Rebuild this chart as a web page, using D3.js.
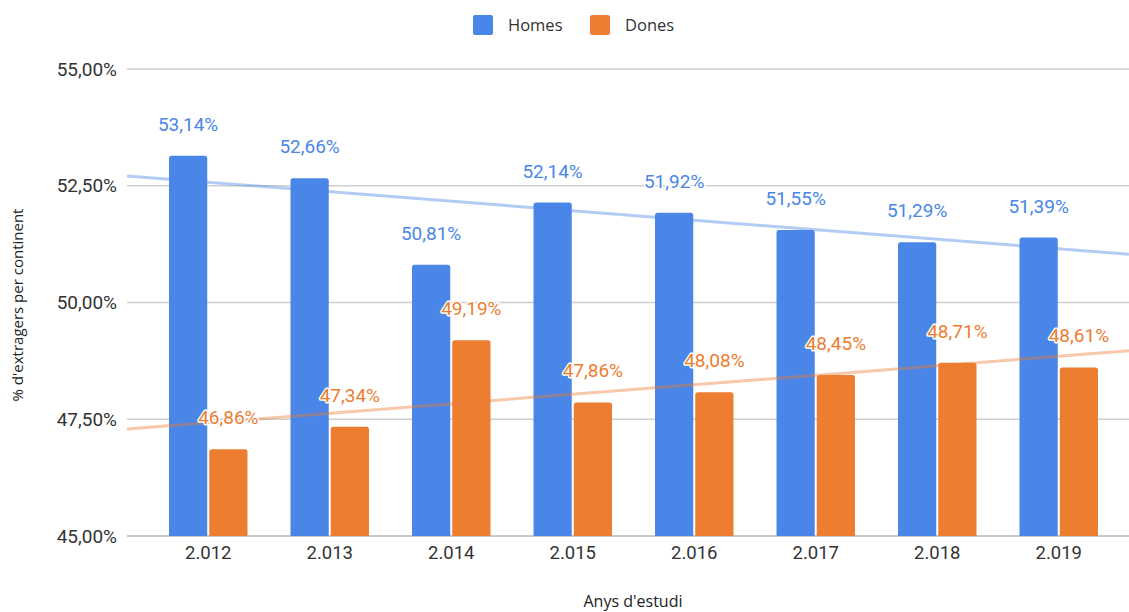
<!DOCTYPE html>
<html lang="ca">
<head>
<meta charset="UTF-8">
<title>Homes i dones</title>
<script src="https://cdn.jsdelivr.net/npm/d3@7"></script>
<style>
  body { margin: 0; background: #fff; }
  text { font-family: Roboto, "Noto Sans", sans-serif; }
  .title { font-family: "Open Sans", "Noto Sans", sans-serif; }
</style>
</head>
<body>
<svg id="chart" width="1129" height="612"></svg>
<script>
const years = ["2.012", "2.013", "2.014", "2.015", "2.016", "2.017", "2.018", "2.019"];
const homes = [53.14, 52.66, 50.81, 52.14, 51.92, 51.55, 51.29, 51.39];
const dones = [46.86, 47.34, 49.19, 47.86, 48.08, 48.45, 48.71, 48.61];
const yTicks = [45, 47.5, 50, 52.5, 55];
const seriesNames = ["Homes", "Dones"];
const colors = ["#4a86e8", "#ed7d31"];

const svg = d3.select("#chart");
const fmt = v => v.toFixed(2).replace(".", ",") + "%";

const plotLeft = 127, plotRight = 1129, plotTop = 69, plotBottom = 536;

const y = d3.scaleLinear().domain([45, 55]).range([plotBottom, plotTop]);
const x = d3.scaleBand().domain(years).range([169, 1098]).paddingInner(0.354).paddingOuter(0);
const xs = d3.scaleBand().domain(seriesNames).range([0, x.bandwidth()]).paddingInner(0.05);

// gridlines
svg.append("g").selectAll("line").data(yTicks).join("line")
  .attr("x1", plotLeft).attr("x2", plotRight)
  .attr("y1", d => y(d)).attr("y2", d => y(d))
  .attr("stroke", d => d === 45 ? "#b7b7b7" : "#cfcfcf")
  .attr("stroke-width", 1.3);

// y tick labels
svg.append("g").selectAll("text").data(yTicks).join("text")
  .attr("x", 117).attr("y", d => y(d)).attr("dy", "0.35em")
  .attr("text-anchor", "end").attr("font-size", 19).attr("fill", "#333")
  .text(d => fmt(d));

// x tick labels
svg.append("g").selectAll("text").data(years).join("text")
  .attr("x", d => x(d) + x.bandwidth() / 2).attr("y", 553).attr("dy", "0.35em")
  .attr("text-anchor", "middle").attr("font-size", 18.5).attr("fill", "#333")
  .text(d => d);

// bars
const series = [homes, dones];
function barPath(x0, w, y0, y1, r) {
  return `M${x0},${y1}V${y0 + r}Q${x0},${y0} ${x0 + r},${y0}H${x0 + w - r}Q${x0 + w},${y0} ${x0 + w},${y0 + r}V${y1}Z`;
}
series.forEach((vals, si) => {
  svg.append("g").selectAll("path").data(vals).join("path")
    .attr("d", (d, i) => barPath(x(years[i]) + xs(seriesNames[si]), xs.bandwidth(), y(d), y(45), 2.5))
    .attr("fill", colors[si]);
});

// trendlines (least squares on the data)
function fit(vals) {
  const n = vals.length, mx = (n - 1) / 2, my = d3.mean(vals);
  let sxy = 0, sxx = 0;
  vals.forEach((v, i) => { sxy += (i - mx) * (v - my); sxx += (i - mx) * (i - mx); });
  const b = sxy / sxx;
  return i => my + b * (i - mx);
}
const step = x.step();
const c0 = x(years[0]) + x.bandwidth() / 2;
series.forEach((vals, si) => {
  const f = fit(vals);
  const idx = px => (px - c0) / step;
  svg.append("line")
    .attr("x1", plotLeft).attr("y1", y(f(idx(plotLeft))))
    .attr("x2", plotRight).attr("y2", y(f(idx(plotRight))))
    .attr("stroke", colors[si]).attr("stroke-opacity", 0.42)
    .attr("stroke-width", 3);
});

// data labels
series.forEach((vals, si) => {
  svg.append("g").selectAll("text").data(vals).join("text")
    .attr("x", (d, i) => x(years[i]) + xs(seriesNames[si]) + xs.bandwidth() / 2)
    .attr("y", d => y(d) - 25)
    .attr("text-anchor", "middle").attr("font-size", 19)
    .attr("fill", colors[si])
    .attr("stroke", "#fff").attr("stroke-width", 3).attr("stroke-linejoin", "round")
    .attr("paint-order", "stroke")
    .text(d => fmt(d));
});

// legend
const legX = [473, 590];
seriesNames.forEach((name, i) => {
  svg.append("rect").attr("x", legX[i]).attr("y", 15).attr("width", 20).attr("height", 20)
    .attr("rx", 2).attr("fill", colors[i]);
  svg.append("text").attr("class", "title").attr("x", legX[i] + 35).attr("y", 25).attr("dy", "0.35em")
    .attr("font-size", 16.5).attr("fill", "#333").text(name);
});

// axis titles
svg.append("text").attr("class", "title")
  .attr("transform", "translate(18,305) rotate(-90)")
  .attr("text-anchor", "middle").attr("dy", "0.35em")
  .attr("font-size", 15).attr("fill", "#222")
  .text("% d'extragers per continent");
svg.append("text").attr("class", "title")
  .attr("x", 633).attr("y", 607)
  .attr("text-anchor", "middle").attr("font-size", 16).attr("fill", "#222")
  .text("Anys d'estudi");
</script>
</body>
</html>
